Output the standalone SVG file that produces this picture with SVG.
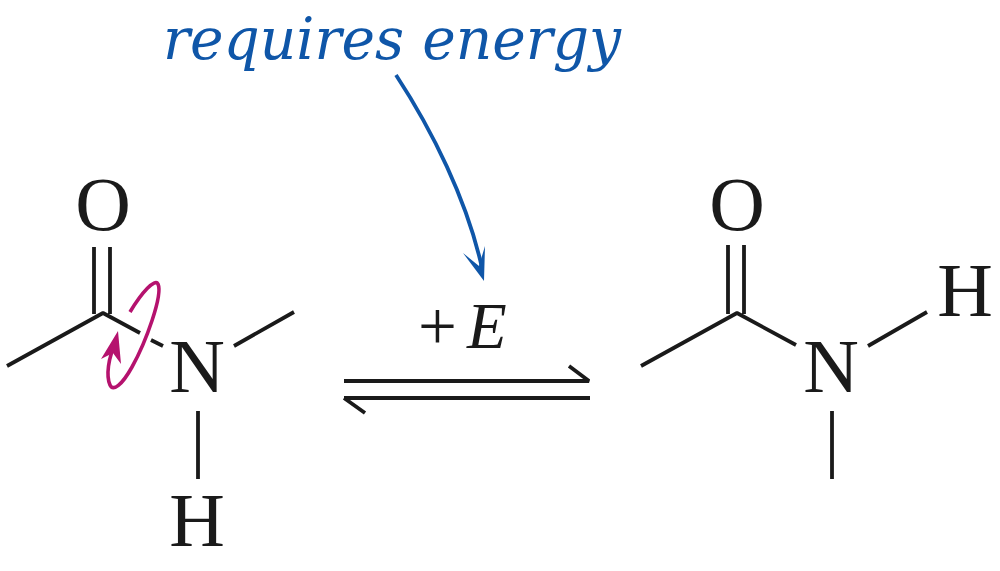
<svg xmlns="http://www.w3.org/2000/svg" width="1000" height="571" viewBox="0 0 1000 571">
<style>
.a{font-family:"Liberation Serif",serif;font-size:77px;fill:#1a1a1a;text-anchor:middle}
.b{stroke:#1a1a1a;stroke-width:3.8;fill:none;stroke-linecap:butt;stroke-linejoin:bevel}
.p{stroke:#b5126e;stroke-width:3.6;fill:none}
</style>
<rect width="1000" height="571" fill="#fff"/>
<g id="connectors">
<path class="b" d="M7 366L103 313L140 333M151 340L163 346M94 247V314M110 247V314M234 346L294 312M198 411V479"/>
<path class="b" d="M641 366L737 313L796 345M728 245V314M744 245V314M868 346L927 312M832 411V479"/>
<path class="b" d="M344 381H589L569 366M344 398H590M344 398L365 413"/>
</g>
<g id="rotation">
<path class="p" d="M130 312C142 292 155 278 158 284C163 295 146 342 132 367C122 385 113 392 110 385C106 376 108 358 116 342"/>
<path d="M101 359L118 331L121 364L113 353Z" fill="#b5126e"/>
</g>
<g id="energy-arrow">
<path d="M396 75C432 130 467 200 482 268" fill="none" stroke="#0f56a8" stroke-width="3.8"/>
<path d="M484 281L463 253L479 266L485 246Z" fill="#0f56a8"/>
<text x="392" y="59" font-family="'DejaVu Serif',serif" font-style="italic" font-size="58" fill="#0f56a8" text-anchor="middle" textLength="458" lengthAdjust="spacingAndGlyphs">requires energy</text>
</g>
<g id="left-molecule">
<text class="a" x="103" y="230">O</text>
<text class="a" x="197" y="392">N</text>
<text class="a" x="197" y="546">H</text>
</g>
<g id="right-molecule">
<text class="a" x="737" y="230">O</text>
<text class="a" x="831" y="392">N</text>
<text class="a" x="965" y="316">H</text>
</g>
<g id="label"><text x="418" y="350" font-family="'Liberation Serif',serif" font-size="69" fill="#1a1a1a">+</text><text x="467" y="348" font-family="'Liberation Serif',serif" font-style="italic" font-size="65" fill="#1a1a1a">E</text></g>
</svg>
